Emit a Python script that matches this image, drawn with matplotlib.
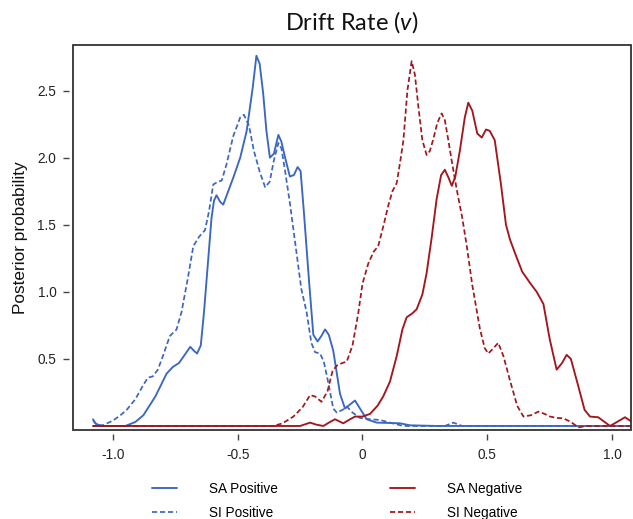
import matplotlib
matplotlib.use("Agg")
import matplotlib.pyplot as plt
from matplotlib.patches import Rectangle

plt.rcParams['font.family'] = ['Liberation Sans', 'DejaVu Sans']
plt.rcParams['mathtext.fontset'] = 'custom'
plt.rcParams['mathtext.it'] = 'Lato:italic'
plt.rcParams['mathtext.rm'] = 'Lato'

# ---- data ----
sa_pos_x = [-1.08, -1.07, -1.05, -1.0, -0.95, -0.91, -0.878, -0.83, -0.785, -0.76, -0.735, -0.705,
            -0.69, -0.675, -0.663, -0.648, -0.635, -0.62, -0.605, -0.595, -0.585, -0.57, -0.558,
            -0.54, -0.518, -0.49, -0.464, -0.44, -0.425, -0.412, -0.398, -0.385, -0.371, -0.355,
            -0.337, -0.325, -0.31, -0.291, -0.275, -0.26, -0.248, -0.235, -0.215, -0.197, -0.18,
            -0.165, -0.15, -0.135, -0.117, -0.09, -0.07, -0.05, -0.03, -0.01, 0.017, 0.057, 0.15,
            0.19, 0.3, 1.08]
sa_pos_y = [0.05, 0.02, 0.0, 0.0, 0.0, 0.03, 0.08, 0.22, 0.39, 0.44, 0.47, 0.55,
            0.59, 0.56, 0.54, 0.60, 0.85, 1.2, 1.55, 1.68, 1.72, 1.67, 1.65,
            1.74, 1.85, 2.0, 2.2, 2.52, 2.76, 2.70, 2.48, 2.2, 2.0, 2.03,
            2.17, 2.12, 2.0, 1.86, 1.87, 1.93, 1.9, 1.6, 1.1, 0.68, 0.63,
            0.67, 0.72, 0.68, 0.56, 0.24, 0.13, 0.16, 0.19, 0.13, 0.05, 0.025, 0.02,
            0.005, 0.0, 0.0]

si_pos_x = [-1.08, -1.065, -1.04, -1.0, -0.97, -0.945, -0.91, -0.88, -0.86, -0.84, -0.82, -0.80,
            -0.772, -0.745, -0.725, -0.70, -0.678, -0.655, -0.631, -0.615, -0.598, -0.58, -0.564,
            -0.545, -0.518, -0.49, -0.475, -0.455, -0.435, -0.411, -0.39, -0.372, -0.355, -0.337,
            -0.325, -0.31, -0.29, -0.265, -0.245, -0.224, -0.205, -0.19, -0.17, -0.155, -0.14,
            -0.117, -0.103, -0.08, -0.063, -0.04, -0.01, 0.03, 0.07, 0.12, 0.164, 0.33, 0.364,
            0.40, 1.08]
si_pos_y = [0.04, 0.01, 0.005, 0.04, 0.08, 0.12, 0.2, 0.3, 0.36, 0.37, 0.42, 0.52,
            0.67, 0.72, 0.85, 1.1, 1.34, 1.41, 1.46, 1.6, 1.80, 1.82, 1.83,
            1.95, 2.16, 2.3, 2.32, 2.24, 2.05, 1.89, 1.78, 1.82, 1.98, 2.11,
            2.07, 1.9, 1.65, 1.3, 1.02, 0.85, 0.62, 0.55, 0.54, 0.48, 0.35,
            0.13, 0.1, 0.12, 0.145, 0.1, 0.06, 0.05, 0.045, 0.02, 0.0, 0.0, 0.025,
            0.0, 0.0]

sa_neg_x = [-1.08, -0.25, -0.21, -0.185, -0.157, -0.13, -0.11, -0.077, -0.05, -0.03, 0.0, 0.03,
            0.06, 0.083, 0.11, 0.137, 0.16, 0.177, 0.2, 0.217, 0.24, 0.257, 0.277, 0.297, 0.315,
            0.33, 0.345, 0.358, 0.372, 0.39, 0.41, 0.424, 0.44, 0.46, 0.478, 0.495, 0.51, 0.53,
            0.555, 0.575, 0.591, 0.615, 0.64, 0.67, 0.698, 0.725, 0.75, 0.778, 0.80, 0.818, 0.835,
            0.86, 0.89, 0.912, 0.945, 0.97, 0.992, 1.02, 1.052, 1.08]
sa_neg_y = [0.0, 0.0, 0.025, 0.01, 0.0, 0.03, 0.05, 0.02, 0.05, 0.07, 0.07, 0.09,
            0.15, 0.22, 0.33, 0.52, 0.72, 0.81, 0.84, 0.87, 0.98, 1.14, 1.4, 1.69, 1.87,
            1.91, 1.85, 1.79, 1.86, 2.05, 2.3, 2.41, 2.35, 2.18, 2.15, 2.21, 2.2, 2.13,
            1.8, 1.5, 1.39, 1.27, 1.15, 1.07, 1.0, 0.91, 0.65, 0.42, 0.47, 0.53, 0.5,
            0.33, 0.12, 0.07, 0.065, 0.03, 0.0, 0.03, 0.065, 0.03]

si_neg_x = [-1.08, -0.357, -0.32, -0.277, -0.24, -0.21, -0.19, -0.164, -0.14, -0.12, -0.103, -0.08,
            -0.063, -0.04, -0.017, 0.0, 0.023, 0.045, 0.063, 0.085, 0.103, 0.12, 0.137, 0.152,
            0.164, 0.18, 0.197, 0.21, 0.224, 0.24, 0.257, 0.27, 0.284, 0.30, 0.317, 0.33, 0.344,
            0.36, 0.378, 0.40, 0.418, 0.44, 0.471, 0.49, 0.504, 0.52, 0.544, 0.565, 0.591, 0.62,
            0.645, 0.675, 0.705, 0.73, 0.752, 0.78, 0.805, 0.835, 0.865, 0.9, 1.08]
si_neg_y = [0.0, 0.0, 0.02, 0.07, 0.14, 0.23, 0.22, 0.18, 0.26, 0.41, 0.45, 0.47,
            0.48, 0.6, 0.84, 1.06, 1.21, 1.3, 1.34, 1.5, 1.64, 1.75, 1.81, 1.98,
            2.13, 2.5, 2.72, 2.62, 2.38, 2.13, 2.02, 2.05, 2.14, 2.26, 2.33, 2.28, 2.13,
            1.95, 1.76, 1.55, 1.34, 1.05, 0.72, 0.58, 0.54, 0.57, 0.62, 0.52, 0.34, 0.15,
            0.07, 0.08, 0.107, 0.09, 0.07, 0.06, 0.057, 0.03, -0.01, 0.0, 0.0]

x_ticks = [-1.0, -0.5, 0.0, 0.5, 1.0]
x_tick_labels = ["-1.0", "-0.5", "0", "0.5", "1.0"]
y_ticks = [0.5, 1.0, 1.5, 2.0, 2.5]
y_tick_labels = ["0.5", "1.0", "1.5", "2.0", "2.5"]

blue = "#3b66c2"
red = "#a3161c"

fig = plt.figure(figsize=(6.33, 5.19), dpi=100)
ax = fig.add_axes([73/633, 1-430/519, (631-73)/633, (430-45)/519])

kw = dict(lw=1.35, solid_joinstyle='round', solid_capstyle='round')
dkw = dict(lw=1.25, dash_joinstyle='round')
ax.plot(sa_pos_x, sa_pos_y, color=blue, ls='-', label='SA Positive', **kw)
ax.plot(si_pos_x, si_pos_y, color=blue, ls=(0, (3, 1.6)), label='SI Positive', **dkw)
ax.plot(sa_neg_x, sa_neg_y, color=red, ls='-', label='SA Negative', **kw)
ax.plot(si_neg_x, si_neg_y, color=red, ls=(0, (3, 1.6)), label='SI Negative', **dkw)

ax.set_xlim(-1.16, 1.076)
ax.set_ylim(-0.03, 2.84)
ax.set_xticks(x_ticks)
ax.set_xticklabels(x_tick_labels)
ax.set_yticks(y_ticks)
ax.set_yticklabels(y_tick_labels)

for s in ax.spines.values():
    s.set_position(('outward', 3))
    s.set_visible(False)
ax.add_patch(Rectangle((0, 0), 1, 1, transform=ax.transAxes, fill=False,
                       lw=1.3, edgecolor='#333333', clip_on=False, zorder=5))
ax.tick_params(direction='out', length=4, width=1.0, color='#444444',
               labelsize=9.8, labelcolor='#222222', pad=5)
ax.tick_params(axis='x', pad=6)

ax.set_ylabel('Posterior probability', fontsize=12.4, labelpad=7, color='#111111')
ax.set_title('Drift Rate ($v$)', fontsize=17, fontname='Lato', pad=11, color='#111111')

h, l = ax.get_legend_handles_labels()
fig.legend(h, l, ncol=2, loc='upper left', bbox_to_anchor=(152/633, 1-482/519),
           frameon=False, fontsize=9.8, handlelength=1.85, handletextpad=2.35,
           columnspacing=8.2, labelspacing=0.72, borderpad=0, borderaxespad=0)

fig.savefig('out.png', dpi=100)
